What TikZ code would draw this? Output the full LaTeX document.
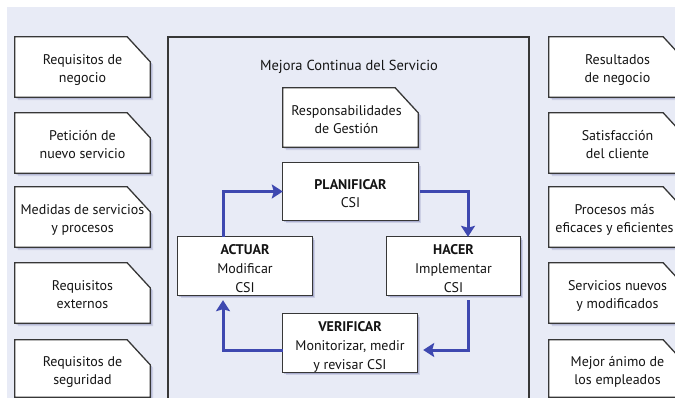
\documentclass[tikz,border=0pt]{standalone}
\usepackage{fontspec}
\setmainfont{PT Sans}
\usetikzlibrary{arrows.meta,calc}
\pgfdeclarelayer{bgl}
\pgfdeclarelayer{boxl}
\pgfsetlayers{bgl,boxl,main}
\definecolor{bgc}{RGB}{232,235,246}
\definecolor{flowc}{RGB}{62,72,176}
\definecolor{linec}{RGB}{55,55,55}
\definecolor{shc}{RGB}{105,112,165}
\definecolor{txtc}{RGB}{20,20,20}
% lowered block of centred lines
\newcommand\tlines[2][18]{\raisebox{-7pt}[0pt][0pt]{\fontsize{14}{#1}\selectfont
  \begin{tabular}{@{}c@{}}#2\end{tabular}}}
\tikzset{
  txt/.style={inner sep=0pt, text=txtc, font=\fontsize{14}{18}\selectfont},
  lbox/.style={txt, minimum width=135pt, minimum height=60pt},
  rbox/.style={txt, minimum width=137pt, minimum height=60pt},
  boxline/.style={draw=linec, line width=1.3pt, fill=white, line join=miter},
  flow/.style={draw=flowc, line width=3pt, line join=miter,
    -{Stealth[length=11pt,width=14pt,inset=2pt]}},
  frameline/.style={draw=linec, line width=1.3pt}
}
% chamfered outline: options, node, dx, dy
\newcommand\chpath[4]{%
  \path[#1] ([shift={(#3,#4)}]#2.south west) -- ([shift={(#3,#4)}]#2.north west)
    -- ([shift={(#3-23pt,#4)}]#2.north east) -- ([shift={(#3,#4-25pt)}]#2.north east)
    -- ([shift={(#3,#4)}]#2.south east) -- cycle;}
\newcommand\rpath[4]{%
  \path[#1] ([shift={(#3,#4)}]#2.south west) rectangle ([shift={(#3,#4)}]#2.north east);}
\newcommand\chbox[1]{%
  \begin{pgfonlayer}{boxl}
  \chpath{fill=shc,opacity=.22}{#1}{3pt}{-3pt}
  \chpath{fill=shc,opacity=.35}{#1}{1.5pt}{-1.5pt}
  \chpath{boxline}{#1}{0pt}{0pt}
  \end{pgfonlayer}}
\newcommand\rbox[1]{%
  \begin{pgfonlayer}{boxl}
  \rpath{fill=shc,opacity=.22}{#1}{3pt}{-3pt}
  \rpath{fill=shc,opacity=.35}{#1}{1.5pt}{-1.5pt}
  \rpath{boxline}{#1}{0pt}{0pt}
  \end{pgfonlayer}}
\begin{document}
\begin{tikzpicture}[x=1pt,y=-1pt]
\useasboundingbox (0,0) rectangle (675,398);
\begin{pgfonlayer}{bgl}
  \fill[white] (0,0) rectangle (675,398);
  \fill[bgc] (7,7) rectangle (676,399);
  \draw[frameline] (168,37) rectangle (529,420);
\end{pgfonlayer}

% left column
\node[lbox] (l1) at (82.5,67) {\tlines{Requisitos de\\negocio}};
\node[lbox] (l2) at (82.5,143) {\tlines{Petición de\\nuevo servicio}};
\node[lbox] (l3) at (82.5,217) {\tlines{Medidas de servicios\\y procesos}};
\node[lbox] (l4) at (82.5,293) {\tlines{Requisitos\\externos}};
\node[lbox, minimum height=57pt] (l5) at (82.5,368.5) {\tlines{Requisitos de\\seguridad}};
\foreach \n in {l1,l2,l3,l4,l5}{\chbox{\n}}

% right column
\node[rbox] (r1) at (617.5,67) {\tlines{Resultados\\de negocio}};
\node[rbox] (r2) at (617.5,143) {\tlines{Satisfacción\\del cliente}};
\node[rbox] (r3) at (617.5,217) {\tlines{Procesos más\kern6pt\\eficaces y eficientes\kern6pt}};
\node[rbox] (r4) at (617.5,293) {\tlines{Servicios nuevos\\y modificados}};
\node[rbox, minimum height=57pt] (r5) at (617.5,368.5) {\tlines{Mejor ánimo de\\los empleados}};
\foreach \n in {r1,r2,r3,r4,r5}{\chbox{\n}}

% centre
\node[txt, font=\fontsize{14.5}{19.5}\selectfont] (tit) at (349,67) {Mejora Continua del Servicio};
\node[txt, minimum width=135pt, minimum height=59pt] (resp) at (350.5,117.5) {\tlines{Responsabilidades\kern8pt\\de Gestión\kern8pt}};
\chbox{resp}
\node[txt, minimum width=135pt, minimum height=57pt] (plan) at (350.5,191.5) {\tlines{\textbf{PLANIFICAR}\\CSI}};
\rbox{plan}
\node[txt, minimum width=133pt, minimum height=58pt] (hac) at (453.5,266) {\tlines[19]{\textbf{HACER}\\Implementar\\CSI}};
\rbox{hac}
\node[txt, minimum width=134pt, minimum height=58pt] (act) at (245,266) {\tlines[19]{\textbf{ACTUAR}\\Modificar\\CSI}};
\rbox{act}
\node[txt, minimum width=134pt, minimum height=58pt] (ver) at (350,343) {\tlines[19]{\textbf{VERIFICAR}\\Monitorizar, medir\\y revisar CSI}};
\rbox{ver}

% cycle arrows
\draw[flow] ([xshift=-22pt]act.north) |- (plan.west);
\draw[flow] ([xshift=2pt]plan.east) -| ([xshift=14.5pt]hac.north);
\draw[flow] ([xshift=14.5pt,yshift=-5pt]hac.south) |- ([xshift=6pt,yshift=-7pt]ver.east);
\draw[flow] ([yshift=-7pt]ver.west) -| ([xshift=-22pt,yshift=-5pt]act.south);
\end{tikzpicture}
\end{document}
